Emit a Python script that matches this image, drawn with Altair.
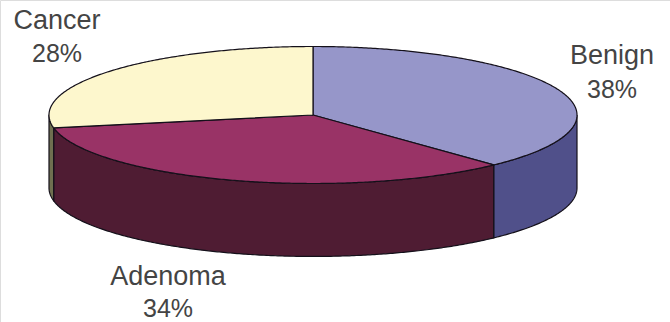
import altair as alt
import numpy as np
import pandas as pd

# Slices in drawing order, clockwise from twelve o'clock
categories = ["Benign", "Adenoma", "Cancer"]
shares = [38, 34, 28]
top_colors = ["#9696c9", "#993366", "#fdf7cd"]
side_colors = ["#50508a", "#4f1c33", "#6f7050"]

# Pie geometry: the face is a unit circle, the wall depth is in the same units
DEPTH = 1.065
x_scale = alt.Scale(domain=[-1, 1], range=[49, 577])
y_scale = alt.Scale(domain=[-1, 1], range=[183.5, 46.5])


def rim(start, end, drop=0.0):
    angles = np.radians(np.linspace(start, end, max(int(abs(end - start)) * 2, 2)))
    return np.sin(angles), np.cos(angles) - drop


def outline(xs, ys):
    return pd.DataFrame({"x": xs, "y": ys, "idx": np.arange(len(xs))})


def polygon(frame, fill):
    return (
        alt.Chart(frame)
        .mark_line(fill=fill, stroke="#14101a", strokeWidth=1.2, strokeJoin="round")
        .encode(
            x=alt.X("x:Q", scale=x_scale, axis=None),
            y=alt.Y("y:Q", scale=y_scale, axis=None),
            order="idx:Q",
        )
    )


bounds = np.concatenate([[0], np.cumsum(shares)]) * 3.6
walls, faces = [], []
for i, name in enumerate(categories):
    start, end = bounds[i], bounds[i + 1]
    # Only the front half of the rim (90 to 270 degrees) shows a wall
    lo, hi = max(start, 90), min(end, 270)
    if hi > lo:
        ux, uy = rim(lo, hi)
        dx, dy = rim(hi, lo, DEPTH)
        walls.append(polygon(
            outline(np.r_[ux, dx, ux[0]], np.r_[uy, dy, uy[0]]), side_colors[i]
        ))
    ax, ay = rim(start, end)
    faces.append(polygon(outline(np.r_[0, ax, 0], np.r_[0, ay, 0]), top_colors[i]))

# Slice captions anchored in pixels: name on the first line, share on the second
label_x = [612, 168, 57]
name_y = [64, 285, 29]
share_y = [98, 317, 62]
labels = pd.DataFrame({
    "name": categories,
    "share": [f"{s}%" for s in shares],
    "px": label_x,
    "ny": name_y,
    "sy": share_y,
})


def caption(field, y_field, size):
    return (
        alt.Chart(labels)
        .mark_text(
            font="Liberation Sans", fontSize=size, color="#444444",
            align="center", baseline="alphabetic",
        )
        .encode(
            x=alt.X("px:Q", scale=None),
            y=alt.Y(f"{y_field}:Q", scale=None),
            text=f"{field}:N",
        )
    )


chart = (
    alt.layer(*walls, *faces, caption("name", "ny", 27), caption("share", "sy", 25))
    .resolve_scale(x="independent", y="independent")
    .properties(width=670, height=322, padding=0, autosize=alt.AutoSizeParams(type="none"))
    .configure_view(stroke=None)
    .configure(background="#ffffff")
)

chart.save("out.html", embed_options={"renderer": "svg", "actions": False})
